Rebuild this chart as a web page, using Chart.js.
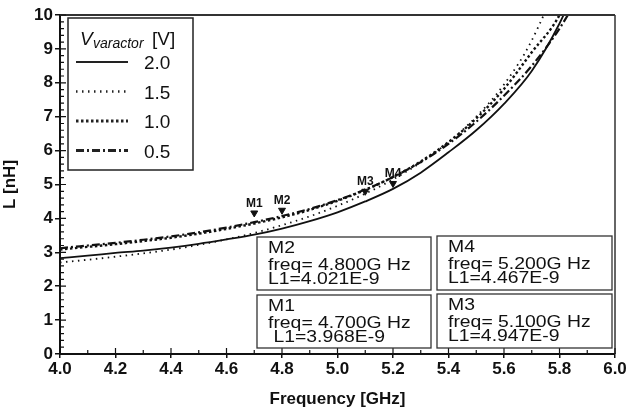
<!DOCTYPE html>
<html>
<head>
<meta charset="utf-8">
<script src="https://cdn.jsdelivr.net/npm/chart.js@4.4.1/dist/chart.umd.min.js"></script>
<style>
  html, body { margin: 0; padding: 0; background: #fff; }
  #wrap { width: 632px; height: 410px; }
</style>
</head>
<body>
<div id="wrap"><canvas id="chart" width="632" height="410"></canvas></div>
<script>
// frequency points (GHz)
const freqs = [4.0, 4.1, 4.2, 4.3, 4.4, 4.5, 4.6, 4.7, 4.8, 4.9, 5.0, 5.1, 5.2, 5.3, 5.4, 5.5, 5.6, 5.7, 5.8, 5.9];
// L [nH] per varactor voltage
const l20 = [2.83, 2.90, 2.98, 3.05, 3.14, 3.25, 3.38, 3.52, 3.70, 3.92, 4.18, 4.50, 4.87, 5.35, 5.95, 6.60, 7.38, 8.35, 9.75, 11.6];
const l15 = [2.70, 2.78, 2.87, 2.97, 3.08, 3.22, 3.38, 3.57, 3.80, 4.06, 4.37, 4.73, 5.15, 5.65, 6.25, 7.00, 7.95, 9.25, 11.2, 14.0];
const l10 = [3.08, 3.16, 3.24, 3.33, 3.43, 3.55, 3.69, 3.85, 4.03, 4.25, 4.52, 4.84, 5.22, 5.68, 6.25, 6.95, 7.82, 8.90, 10.0, 12.0];
const l05 = [3.12, 3.20, 3.28, 3.37, 3.47, 3.59, 3.73, 3.89, 4.07, 4.28, 4.54, 4.85, 5.22, 5.66, 6.20, 6.85, 7.62, 8.50, 9.60, 11.0];
const voltages = ['2.0', '1.5', '1.0', '0.5'];

// markers
const markerNames = ['M1', 'M2', 'M3', 'M4'];
const markerFreq = [4.7, 4.8, 5.1, 5.2];
const markerL = [4.16, 4.24, 4.80, 5.03];
// marker readout boxes
const readFreq = ['4.700', '4.800', '5.100', '5.200'];
const readL = ['3.968E-9', '4.021E-9', '4.947E-9', '4.467E-9'];

const xTicks = [4.0, 4.2, 4.4, 4.6, 4.8, 5.0, 5.2, 5.4, 5.6, 5.8, 6.0];

function pts(ys) {
  return freqs.map((f, i) => ({ x: f, y: ys[i] }));
}

const styles = [
  { dash: [], width: 1.8 },
  { dash: [1.5, 4.5], width: 1.8 },
  { dash: [2.5, 2.5], width: 2.4 },
  { dash: [8, 3, 2, 3], width: 2.2 }
];

const series = [l20, l15, l10, l05];
const datasets = series.map((s, i) => ({
  label: voltages[i],
  data: pts(s),
  borderColor: '#111',
  borderWidth: styles[i].width,
  borderDash: styles[i].dash,
  pointRadius: 0,
  cubicInterpolationMode: 'monotone',
  fill: false
}));

datasets.push({
  label: 'markers',
  type: 'scatter',
  data: markerFreq.map((f, i) => ({ x: f, y: markerL[i] })),
  pointStyle: 'triangle',
  rotation: 180,
  pointRadius: 4,
  backgroundColor: '#111',
  borderColor: '#111',
  borderWidth: 1
});

const FONT = '"Liberation Sans", Arial, sans-serif';

const extras = {
  id: 'extras',
  beforeDraw(chart) {
    const ctx = chart.ctx;
    ctx.save();
    ctx.fillStyle = '#fff';
    ctx.fillRect(0, 0, chart.width, chart.height);
    ctx.restore();
  },
  afterDraw(chart) {
    const ctx = chart.ctx;
    const a = chart.chartArea;
    const xs = chart.scales.x, ys = chart.scales.y;
    ctx.save();

    // frame top / right
    ctx.strokeStyle = '#333';
    ctx.lineWidth = 2;
    ctx.beginPath();
    ctx.moveTo(a.left, a.top); ctx.lineTo(a.right, a.top);
    ctx.stroke();
    ctx.lineWidth = 1.5;
    ctx.beginPath();
    ctx.moveTo(a.right, a.top); ctx.lineTo(a.right, a.bottom);
    ctx.stroke();

    // minor ticks pointing inward
    ctx.strokeStyle = '#111';
    ctx.lineWidth = 1.2;
    ctx.beginPath();
    for (let v = 0; v <= 10.001; v += 0.2) {
      const y = ys.getPixelForValue(v);
      const major = Math.abs(v - Math.round(v)) < 0.01;
      ctx.moveTo(a.left, y); ctx.lineTo(a.left + (major ? 6 : 4), y);
    }
    for (let v = 4.0; v <= 6.001; v += 0.1) {
      const x = xs.getPixelForValue(v);
      const major = Math.abs(v * 5 - Math.round(v * 5)) < 0.01;
      ctx.moveTo(x, a.bottom); ctx.lineTo(x, a.bottom - (major ? 6 : 4));
    }
    ctx.stroke();

    // legend box
    const lx = a.left + 8, ly = a.top + 3, lw = 125, lh = 152;
    ctx.fillStyle = '#fff';
    ctx.fillRect(lx, ly, lw, lh);
    ctx.strokeStyle = '#222';
    ctx.lineWidth = 1.5;
    ctx.strokeRect(lx, ly, lw, lh);
    ctx.fillStyle = '#111';
    ctx.textBaseline = 'alphabetic';
    ctx.textAlign = 'left';
    ctx.font = 'italic 19px ' + FONT;
    ctx.fillText('V', lx + 12, ly + 27);
    ctx.font = 'italic 14px ' + FONT;
    ctx.fillText('varactor', lx + 25, ly + 30);
    ctx.font = '19px ' + FONT;
    ctx.fillText('[V]', lx + 84, ly + 27);
    for (let i = 0; i < 4; i++) {
      const y = ly + 44 + i * 29.5;
      ctx.save();
      ctx.setLineDash(styles[i].dash);
      ctx.lineWidth = styles[i].width + (i > 0 ? 0.8 : 0);
      ctx.beginPath();
      ctx.moveTo(lx + 8, y); ctx.lineTo(lx + 60, y);
      ctx.stroke();
      ctx.restore();
      ctx.font = '19px ' + FONT;
      ctx.fillText(voltages[i], lx + 76, y + 7);
    }

    // marker labels
    ctx.font = 'bold 12px ' + FONT;
    ctx.textAlign = 'center';
    markerNames.forEach((m, i) => {
      const x = xs.getPixelForValue(markerFreq[i]);
      const y = ys.getPixelForValue(markerL[i]);
      ctx.fillText(m, x, y - 6);
    });

    // readout boxes
    const boxes = [
      { m: 1, x: 257, y: 237, w: 174, h: 53 },
      { m: 3, x: 437, y: 236, w: 175, h: 54 },
      { m: 0, x: 257, y: 295, w: 174, h: 53 },
      { m: 2, x: 437, y: 294, w: 175, h: 54 }
    ];
    ctx.textAlign = 'left';
    boxes.forEach(b => {
      ctx.fillStyle = '#fff';
      ctx.fillRect(b.x, b.y, b.w, b.h);
      ctx.strokeStyle = '#333';
      ctx.lineWidth = 1.3;
      ctx.strokeRect(b.x, b.y, b.w, b.h);
      ctx.fillStyle = '#111';
      ctx.save();
      ctx.translate(b.x + 11, b.y);
      ctx.scale(1.14, 1);
      ctx.font = '17px ' + FONT;
      ctx.fillText(markerNames[b.m], 0, 16);
      ctx.fillText('freq= ' + readFreq[b.m] + 'G Hz', 0, 33);
      ctx.fillText((b.m === 0 ? ' ' : '') + 'L1=' + readL[b.m], 0, 47);
      ctx.restore();
    });

    ctx.restore();
  }
};

new Chart(document.getElementById('chart'), {
  type: 'line',
  data: { datasets },
  plugins: [extras],
  options: {
    responsive: false,
    animation: false,
    layout: { padding: { top: 15, right: 17, left: 0, bottom: 0 } },
    plugins: { legend: { display: false }, tooltip: { enabled: false } },
    scales: {
      x: {
        type: 'linear',
        min: 4.0,
        max: 6.0,
        afterBuildTicks(scale) { scale.ticks = xTicks.map(v => ({ value: v })); },
        afterFit(scale) { scale.height = 56; },
        border: { color: '#111', width: 2 },
        grid: { drawOnChartArea: false, drawTicks: true, tickLength: 4, color: '#111', lineWidth: 1.5 },
        ticks: {
          color: '#111',
          padding: 1,
          maxRotation: 0,
          font: { family: FONT, size: 17, weight: 'bold' },
          callback: v => v.toFixed(1)
        },
        title: {
          display: true,
          text: 'Frequency [GHz]',
          color: '#111',
          padding: { top: 4, bottom: 0 },
          font: { family: FONT, size: 17, weight: 'bold' }
        }
      },
      y: {
        min: 0,
        max: 10,
        afterFit(scale) { scale.width = 60; },
        border: { color: '#111', width: 2 },
        grid: { drawOnChartArea: false, drawTicks: true, tickLength: 5, color: '#111', lineWidth: 1.5 },
        ticks: {
          stepSize: 1,
          color: '#111',
          padding: 2,
          font: { family: FONT, size: 17, weight: 'bold' }
        },
        title: {
          display: true,
          text: 'L [nH]',
          color: '#111',
          padding: { top: 0, bottom: 4 },
          font: { family: FONT, size: 17, weight: 'bold' }
        }
      }
    }
  }
});
</script>
</body>
</html>
